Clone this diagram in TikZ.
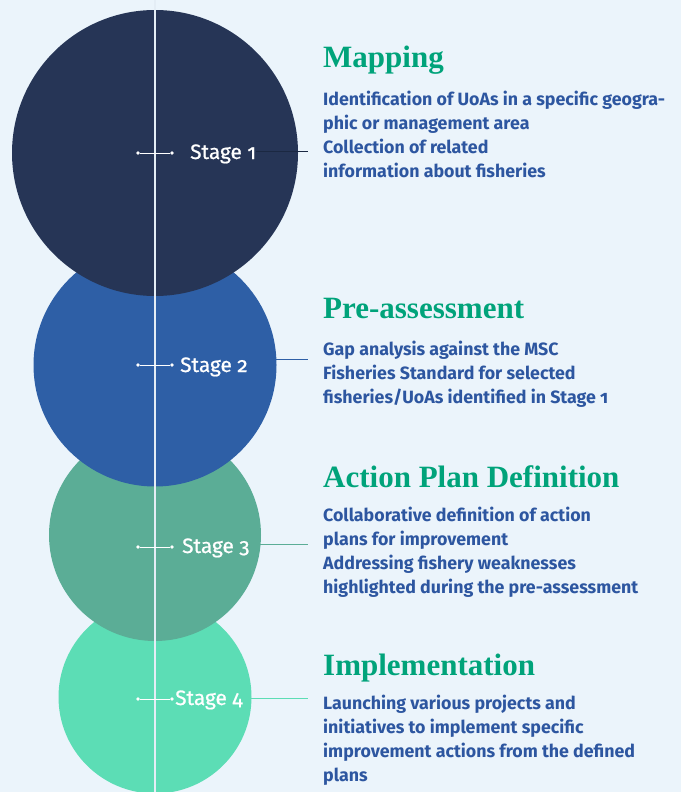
\documentclass[tikz,border=0pt]{standalone}
\usepackage{fontspec}
\setmainfont{Fira Sans}[Numbers=OldStyle]
\newfontfamily\headfont{Liberation Serif}
\newfontfamily\stagefont{Fira Sans}[Numbers=OldStyle,FakeBold=0.8]
\usepackage{tikz}
\usetikzlibrary{positioning}
\definecolor{bgblue}{HTML}{EBF4FB}
\definecolor{navy}{HTML}{263556}
\definecolor{navyline}{HTML}{1B2842}
\definecolor{midblue}{HTML}{2E5FA6}
\definecolor{seagreen}{HTML}{5BAD96}
\definecolor{mint}{HTML}{5CDDB5}
\definecolor{headgreen}{HTML}{00A37A}
\definecolor{textblue}{HTML}{2D56A0}
\definecolor{axisgray}{HTML}{E4EDF5}

\begin{document}
\begin{tikzpicture}[x=1pt,y=-1pt,
  disc/.style={circle,inner sep=0pt,minimum size=#1},
  stagelbl/.style={anchor=base west,inner sep=0pt,text=white,font=\stagefont\fontsize{20.8}{24}\selectfont},
  headlbl/.style={anchor=base west,inner sep=0pt,text=headgreen,font=\headfont\bfseries\fontsize{31}{34}\selectfont},
  bodytxt/.style={anchor=base west,inner sep=0pt,align=left,text=textblue,font=\bfseries\fontsize{17.8}{24}\selectfont},
  tickline/.style={white,line width=1pt},
  dot/.style={circle,fill=white,inner sep=0pt,minimum size=3.6pt},
  link/.style={line width=1pt}]
\fill[bgblue] (0,0) rectangle (681,792);
\useasboundingbox (0,0) rectangle (681,792);

% circles, last stage first
\node[disc=193pt,fill=mint] (c4) at (155,697) {};
\node[disc=212pt,fill=seagreen] (c3) at (155,535) {};
\node[disc=243pt,fill=midblue] (c2) at (155,365) {};
\node[disc=286pt,fill=navy] (c1) at (155,153) {};

% axis
\coordinate (top) at (155,0);
\coordinate (bot) at (155,792);
\draw[axisgray,line width=1.4pt] (top) -- (bot);

% ticks on the axis
\foreach \n/\y in {1/153,2/365,3/547,4/699}{
  \node[dot] (t\n l) at (138,\y) {};
  \node[dot] (t\n r) at (172,\y) {};
  \draw[tickline] (t\n l) -- (t\n r);
}

% stage labels
\node[stagelbl] (s1) at (190,159) {Stage 1};
\node[stagelbl] (s2) at (180,372) {Stage 2};
\node[stagelbl] (s3) at (182,553) {Stage 3};
\node[stagelbl] (s4) at (175,705) {Stage 4};

% connectors
\coordinate (e1) at (308,151);
\coordinate (e2) at (308,359);
\coordinate (e3) at (308,544);
\coordinate (e4) at (308,698);
\draw[link,navyline] (s1.east |- e1) -- (e1);
\draw[link,midblue] (s2.east |- e2) -- (e2);
\draw[link,seagreen] (s3.east |- e3) -- (e3);
\draw[link,mint] (s4.east |- e4) -- (e4);

% headings
\node[headlbl] (h1) at (323,67) {Mapping};
\node[headlbl] (h2) at (323,318) {Pre-assessment};
\node[headlbl] (h3) at (323,487) {Action Plan Definition};
\node[headlbl] (h4) at (323,675) {Implementation};

% descriptions (placed by their last line)
\node[bodytxt] (b1) at (323,177) {Identification of UoAs in a specific geogra-\\phic or management area\\Collection of related\\information about fisheries};
\node[bodytxt] (b2) at (323,403) {Gap analysis against the MSC\\Fisheries Standard for selected\\fisheries/UoAs identified in Stage 1};
\node[bodytxt] (b3) at (323,593) {Collaborative definition of action\\plans for improvement\\Addressing fishery weaknesses\\highlighted during the pre-assessment};
\node[bodytxt] (b4) at (323,781) {Launching various projects and\\initiatives to implement specific\\improvement actions from the defined\\plans};
\end{tikzpicture}
\end{document}
